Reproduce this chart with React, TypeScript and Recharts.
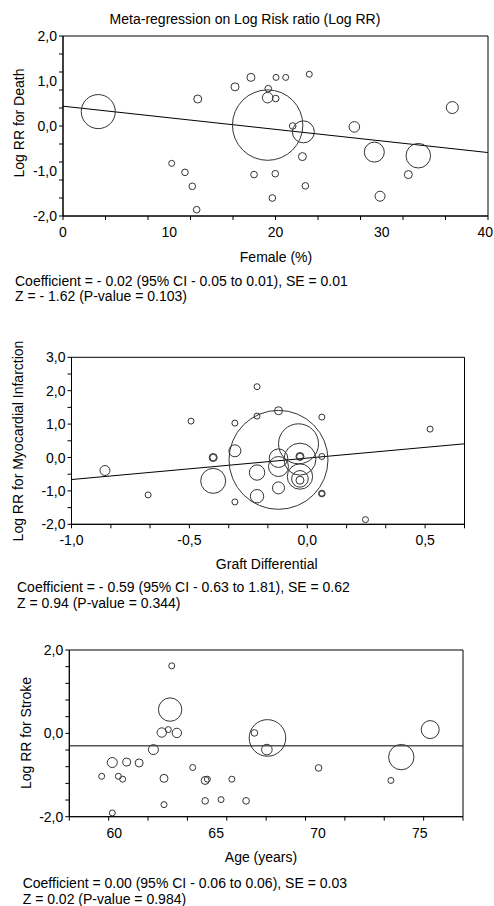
import React from "react";
import { ScatterChart, Scatter, XAxis, YAxis, ReferenceLine, ReferenceArea } from "recharts";

const FONT = '"Liberation Sans", Arial, sans-serif';

// --- Log RR for death vs female (%) ---
// w = study weight, read as the bubble's area (r² in px)
const deathPoints = [
  { x: 3.32, y: 0.32, w: 290 },
  { x: 12.68, y: 0.6, w: 16 },
  { x: 10.23, y: -0.83, w: 9 },
  { x: 11.48, y: -1.03, w: 11 },
  { x: 12.17, y: -1.34, w: 11 },
  { x: 12.58, y: -1.86, w: 11 },
  { x: 16.19, y: 0.87, w: 16 },
  { x: 17.69, y: 1.08, w: 16 },
  { x: 17.98, y: -1.08, w: 11 },
  { x: 19.32, y: 0.83, w: 11 },
  { x: 19.26, y: 0.63, w: 28 },
  { x: 19.26, y: 0.02, w: 1240 },
  { x: 20.05, y: 1.08, w: 9 },
  { x: 20.02, y: 0.61, w: 11 },
  { x: 19.98, y: -1.06, w: 11 },
  { x: 19.7, y: -1.6, w: 11 },
  { x: 20.96, y: 1.08, w: 9 },
  { x: 21.62, y: 0.0, w: 11 },
  { x: 22.62, y: -0.13, w: 121 },
  { x: 22.53, y: -0.68, w: 16 },
  { x: 22.81, y: -1.33, w: 11 },
  { x: 23.18, y: 1.15, w: 9 },
  { x: 27.42, y: -0.02, w: 28 },
  { x: 29.3, y: -0.58, w: 100 },
  { x: 29.84, y: -1.56, w: 25 },
  { x: 33.44, y: -0.66, w: 151 },
  { x: 32.5, y: -1.08, w: 16 },
  { x: 36.64, y: 0.41, w: 36 },
];
const deathFit = [{ x: 0, y: 0.44 }, { x: 40, y: -0.59 }];
const deathXDomain = [0, 40];
const deathXTicks = [0, 4, 8, 12, 16, 20, 24, 28, 32, 36, 40];
const deathXLabels = [0, 10, 20, 30, 40];
const deathYDomain = [-2, 2];
const deathYTicks = [-2, -1.6, -1.2, -0.8, -0.4, 0, 0.4, 0.8, 1.2, 1.6, 2];
const deathYLabels = [-2, -1, 0, 1, 2];

// --- Log RR for myocardial infarction vs graft differential ---
const miPoints = [
  { x: -0.858, y: -0.39, w: 25 },
  { x: -0.675, y: -1.12, w: 9 },
  { x: -0.493, y: 1.09, w: 9 },
  { x: -0.399, y: -0.7, w: 156 },
  { x: -0.399, y: 0.0, w: 16 },
  { x: -0.399, y: 0.0, w: 11 },
  { x: -0.307, y: 1.03, w: 9 },
  { x: -0.307, y: 0.2, w: 36 },
  { x: -0.307, y: -1.33, w: 9 },
  { x: -0.213, y: 2.12, w: 9 },
  { x: -0.213, y: 1.24, w: 9 },
  { x: -0.213, y: -0.45, w: 59 },
  { x: -0.213, y: -1.16, w: 45 },
  { x: -0.122, y: 1.4, w: 16 },
  { x: -0.122, y: -0.07, w: 2450 },
  { x: -0.122, y: -0.02, w: 86 },
  { x: -0.122, y: -0.27, w: 100 },
  { x: -0.122, y: -0.91, w: 36 },
  { x: -0.037, y: 0.41, w: 400 },
  { x: -0.031, y: -0.05, w: 256 },
  { x: -0.031, y: 0.03, w: 16 },
  { x: -0.031, y: 0.03, w: 11 },
  { x: -0.031, y: -0.57, w: 161 },
  { x: -0.031, y: -0.64, w: 69 },
  { x: -0.031, y: -0.68, w: 16 },
  { x: 0.062, y: 1.21, w: 9 },
  { x: 0.062, y: 0.03, w: 9 },
  { x: 0.062, y: -1.08, w: 11 },
  { x: 0.062, y: -1.08, w: 7 },
  { x: 0.247, y: -1.86, w: 9 },
  { x: 0.521, y: 0.85, w: 9 },
];
const miFit = [{ x: -1, y: -0.66 }, { x: 0.667, y: 0.41 }];
const miXDomain = [-1, 0.667];
const miXTicks = [-1, -0.833, -0.667, -0.5, -0.333, -0.167, 0, 0.167, 0.333, 0.5, 0.667];
const miXLabels = [-1, -0.5, 0, 0.5];
const miYDomain = [-2, 3];
const miYTicks = [-2, -1.5, -1, -0.5, 0, 0.5, 1, 1.5, 2, 2.5, 3];
const miYLabels = [-2, -1, 0, 1, 2, 3];

// --- Log RR for stroke vs age (years) ---
const strokePoints = [
  { x: 59.38, y: -1.03, w: 9 },
  { x: 59.9, y: -0.7, w: 25 },
  { x: 59.9, y: -1.91, w: 9 },
  { x: 60.2, y: -1.03, w: 9 },
  { x: 60.41, y: -1.1, w: 9 },
  { x: 60.61, y: -0.69, w: 16 },
  { x: 61.22, y: -0.71, w: 16 },
  { x: 61.92, y: -0.39, w: 25 },
  { x: 62.33, y: 0.02, w: 22 },
  { x: 62.44, y: -1.08, w: 16 },
  { x: 62.44, y: -1.71, w: 9 },
  { x: 62.65, y: 0.09, w: 9 },
  { x: 62.74, y: 0.57, w: 137 },
  { x: 62.82, y: 1.62, w: 9 },
  { x: 63.07, y: 0.01, w: 22 },
  { x: 63.85, y: -0.82, w: 9 },
  { x: 64.46, y: -1.13, w: 16 },
  { x: 64.57, y: -1.1, w: 9 },
  { x: 64.46, y: -1.62, w: 11 },
  { x: 65.24, y: -1.59, w: 9 },
  { x: 65.77, y: -1.1, w: 9 },
  { x: 66.47, y: -1.62, w: 11 },
  { x: 66.88, y: 0.01, w: 11 },
  { x: 67.52, y: -0.11, w: 335 },
  { x: 67.49, y: -0.39, w: 28 },
  { x: 70.03, y: -0.83, w: 11 },
  { x: 73.58, y: -1.13, w: 9 },
  { x: 74.09, y: -0.57, w: 161 },
  { x: 75.51, y: 0.09, w: 81 },
];
const strokeFit = -0.3;
const strokeXDomain = [57.79, 77.12];
const strokeXTicks = [57.79, 59.723, 61.656, 63.589, 65.522, 67.455, 69.388, 71.321, 73.254, 75.187, 77.12];
const strokeXLabels = [60, 65, 70, 75];
const strokeYDomain = [-2, 2];
const strokeYTicks = [-2, -1.6, -1.2, -0.8, -0.4, 0, 0.4, 0.8, 1.2, 1.6, 2];
const strokeYLabels = [-2, 0, 2];

const near = (list: number[], v: number) => list.some((t) => Math.abs(t - v) < 1e-6);
const merge = (a: number[], b: number[]) =>
  [...a, ...b.filter((v) => !near(a, v))].sort((p, q) => p - q);
const comma = (v: number) => v.toFixed(1).replace(".", ",");
const plain = (v: number) => String(v);

const textStyle = { fontFamily: FONT, fontSize: 14, fill: "#000" };

function makeXTick(minor: number[], labels: number[], fmt: (v: number) => string) {
  return (props: any) => {
    const { x, y, payload } = props;
    const v = payload.value;
    // keep the last label inside the page
    const tooFar = x + 9 > 493;
    return (
      <g>
        {near(minor, v) && <line x1={x} x2={x} y1={y} y2={y + 4} stroke="#000" />}
        {near(labels, v) && (
          <text
            x={tooFar ? 493 : x}
            y={y + 16}
            textAnchor={tooFar ? "end" : "middle"}
            dominantBaseline="central"
            {...textStyle}
          >
            {fmt(v)}
          </text>
        )}
      </g>
    );
  };
}

function makeYTick(minor: number[], labels: number[], fmt: (v: number) => string) {
  return (props: any) => {
    const { x, y, payload } = props;
    const v = payload.value;
    return (
      <g>
        {near(minor, v) && <line x1={x - 4} x2={x} y1={y} y2={y} stroke="#000" />}
        {near(labels, v) && (
          <text x={x - 6} y={y} textAnchor="end" dominantBaseline="central" {...textStyle}>
            {fmt(v)}
          </text>
        )}
      </g>
    );
  };
}

// bubble area follows the study weight
const Bubble = (props: any) => {
  const r = Math.sqrt(props.payload?.w ?? 9);
  return <circle cx={props.cx} cy={props.cy} r={r} fill="none" stroke="#333" strokeWidth={1} />;
};

interface PanelProps {
  top: number;
  height: number;
  margin: { top: number; right: number; bottom: number; left: number };
  points: { x: number; y: number; w: number }[];
  xDomain: number[];
  yDomain: number[];
  xTicks: number[];
  xLabels: number[];
  xFmt: (v: number) => string;
  yTicks: number[];
  yLabels: number[];
  children?: React.ReactNode;
}

function Panel(p: PanelProps) {
  return (
    <div style={{ position: "absolute", left: 0, top: p.top }}>
      <ScatterChart width={494} height={p.height} margin={p.margin}>
        <XAxis
          type="number"
          dataKey="x"
          domain={p.xDomain}
          ticks={merge(p.xTicks, p.xLabels)}
          interval={0}
          height={25}
          tickSize={0}
          tickMargin={0}
          tickLine={false}
          axisLine={{ stroke: "#000" }}
          tick={makeXTick(p.xTicks, p.xLabels, p.xFmt)}
          allowDataOverflow
        />
        <YAxis
          type="number"
          dataKey="y"
          domain={p.yDomain}
          ticks={merge(p.yTicks, p.yLabels)}
          interval={0}
          width={40}
          tickSize={0}
          tickMargin={0}
          tickLine={false}
          axisLine={{ stroke: "#000" }}
          tick={makeYTick(p.yTicks, p.yLabels, comma)}
          allowDataOverflow
        />
        <ReferenceArea
          x1={p.xDomain[0]}
          x2={p.xDomain[1]}
          y1={p.yDomain[0]}
          y2={p.yDomain[1]}
          fill="none"
          fillOpacity={0}
          stroke="#000"
          strokeWidth={1}
        />
        <Scatter data={p.points} shape={Bubble} isAnimationActive={false} />
        {p.children}
      </ScatterChart>
    </div>
  );
}

export default function App() {
  return (
    <div style={{ position: "absolute", left: 0, top: 0, width: 494, height: 906, background: "#fff" }}>
      <Panel
        top={0}
        height={245}
        margin={{ top: 36, right: 6, bottom: 4, left: 23 }}
        points={deathPoints}
        xDomain={deathXDomain}
        yDomain={deathYDomain}
        xTicks={deathXTicks}
        xLabels={deathXLabels}
        xFmt={plain}
        yTicks={deathYTicks}
        yLabels={deathYLabels}
      >
        <ReferenceLine segment={deathFit} stroke="#000" strokeWidth={1} />
      </Panel>

      <Panel
        top={330}
        height={220}
        margin={{ top: 27.3, right: 29.5, bottom: 0.7, left: 31.5 }}
        points={miPoints}
        xDomain={miXDomain}
        yDomain={miYDomain}
        xTicks={miXTicks}
        xLabels={miXLabels}
        xFmt={comma}
        yTicks={miYTicks}
        yLabels={miYLabels}
      >
        <ReferenceLine segment={miFit} stroke="#000" strokeWidth={1} />
      </Panel>

      <Panel
        top={620}
        height={225}
        margin={{ top: 30, right: 31, bottom: 3.3, left: 29.3 }}
        points={strokePoints}
        xDomain={strokeXDomain}
        yDomain={strokeYDomain}
        xTicks={strokeXTicks}
        xLabels={strokeXLabels}
        xFmt={plain}
        yTicks={strokeYTicks}
        yLabels={strokeYLabels}
      >
        <ReferenceLine y={strokeFit} stroke="#000" strokeWidth={1} />
      </Panel>

      <svg
        width={494}
        height={906}
        style={{ position: "absolute", left: 0, top: 0, pointerEvents: "none" }}
      >
        <g {...textStyle} dominantBaseline="central">
          <text x={245} y={18.5} textAnchor="middle">Meta-regression on Log Risk ratio (Log RR)</text>
          <text x={19} y={123} textAnchor="middle" transform="rotate(-90 19 123)">Log RR for Death</text>
          <text x={276} y={257} textAnchor="middle">Female (%)</text>
          <text x={15} y={280.7}>Coefficient = - 0.02 (95% CI - 0.05 to 0.01), SE = 0.01</text>
          <text x={15} y={296}>Z = - 1.62 (P-value = 0.103)</text>

          <text x={18} y={441} textAnchor="middle" transform="rotate(-90 18 441)">Log RR for Myocardial Infarction</text>
          <text x={266.7} y={564} textAnchor="middle">Graft Differential</text>
          <text x={17} y={586.7}>Coefficient = - 0.59 (95% CI - 0.63 to 1.81), SE = 0.62</text>
          <text x={17} y={602.7}>Z = 0.94 (P-value = 0.344)</text>

          <text x={26} y={733} textAnchor="middle" transform="rotate(-90 26 733)">Log RR for Stroke</text>
          <text x={261} y={856.7} textAnchor="middle">Age (years)</text>
          <text x={22.7} y={883.3}>Coefficient = 0.00 (95% CI - 0.06 to 0.06), SE = 0.03</text>
          <text x={22.7} y={899.3}>Z = 0.02 (P-value = 0.984)</text>
        </g>
      </svg>
    </div>
  );
}
